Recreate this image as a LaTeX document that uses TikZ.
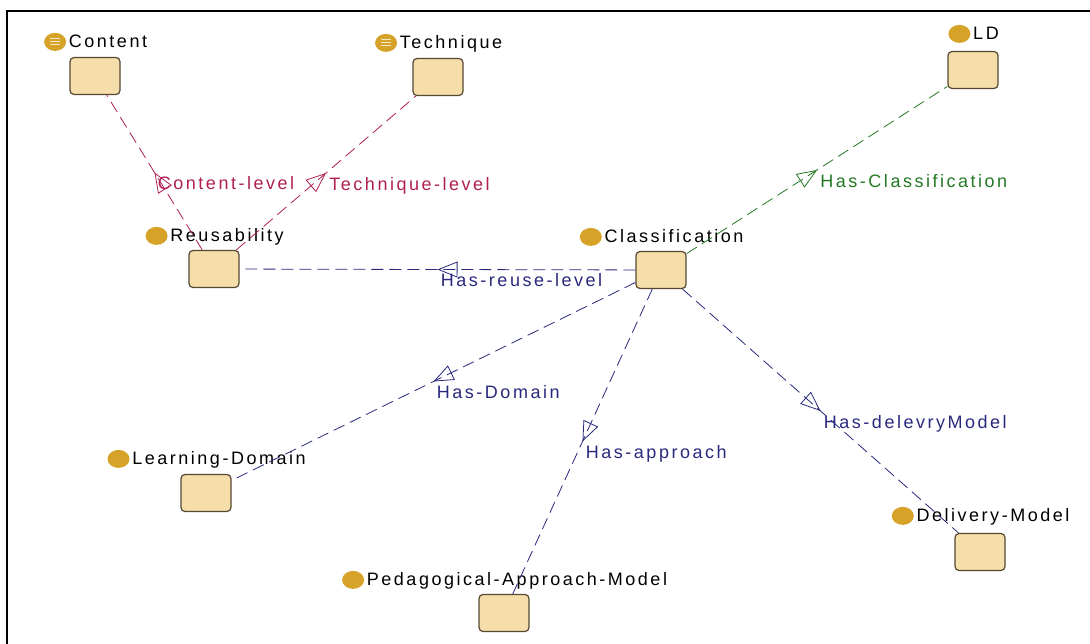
\documentclass[tikz,border=0pt]{standalone}
\usepackage{fontspec}
\setmainfont{Liberation Sans}[LetterSpace=14]
\usepackage{tikz}
\usetikzlibrary{positioning,shapes.geometric,arrows.meta,decorations.markings}
\definecolor{boxfill}{RGB}{246,222,170}
\definecolor{boxline}{RGB}{85,72,50}
\definecolor{dotgold}{RGB}{214,162,40}
\definecolor{crim}{RGB}{175,30,85}
\definecolor{navy}{RGB}{40,40,125}
\definecolor{leaf}{RGB}{35,120,35}

\begin{document}
\begin{tikzpicture}[x=1pt,y=-1pt,line width=.8pt,font=\fontsize{18}{20}\selectfont,
  cls/.style={draw=boxline,fill=boxfill,rounded corners=4pt,line width=1.2pt,minimum width=50pt,minimum height=37pt,inner sep=0pt},
  lbl/.style={inner sep=1pt,text height=1.5ex,text depth=.25ex},
  dot/.style={ellipse,fill=dotgold,minimum width=22pt,minimum height=18pt,inner sep=0pt,yshift=2pt},
  listdot/.style={dot,path picture={
    \foreach \dy in {-3,0,3}
      \draw[white!75!dotgold,line width=1pt] ([xshift=-5pt,yshift=\dy pt]path picture bounding box.center) -- ++(10pt,0pt);}},
  rel/.style={dash pattern=on 12pt off 6pt,postaction={decorate},
    decoration={markings,mark=at position .5 with {\arrow{Triangle[open,length=20pt,width=16pt]}}}},
  elbl/.style={anchor=north west,inner sep=3pt,yshift=-6pt,text height=1.5ex,text depth=.25ex}]
\useasboundingbox (0,0) rectangle (1090,644);
\draw[line width=2pt] (7,644) -- (7,11) -- (1090,11);

% classes
\node[cls] (content) at (95,76) {};
\node[cls] (technique) at (438,77) {};
\node[cls] (ld) at (973,70) {};
\node[cls] (reuse) at (214,269) {};
\node[cls] (classif) at (661,270) {};
\node[cls] (learn) at (206,493) {};
\node[cls] (peda) at (504,613) {};
\node[cls] (deliv) at (980,552) {};

% names
\node[lbl] (content-l) at ([xshift=13pt,yshift=13pt]content.north) {Content};
\node[listdot,left=1pt of content-l] (content-d) {};
\node[lbl] (technique-l) at ([xshift=13pt,yshift=13pt]technique.north) {Technique};
\node[listdot,left=1pt of technique-l] (technique-d) {};
\node[lbl] (ld-l) at ([xshift=13pt,yshift=15pt]ld.north) {LD};
\node[dot,left=1pt of ld-l] (ld-d) {};
\node[lbl] (reuse-l) at ([xshift=13pt,yshift=12pt]reuse.north) {Reusability};
\node[dot,left=1pt of reuse-l] (reuse-d) {};
\node[lbl] (classif-l) at ([xshift=13pt,yshift=12pt]classif.north) {Classification};
\node[dot,left=1pt of classif-l] (classif-d) {};
\node[lbl] (learn-l) at ([xshift=13pt,yshift=13pt]learn.north) {Learning-Domain};
\node[dot,left=1pt of learn-l] (learn-d) {};
\node[lbl] (peda-l) at ([xshift=13pt,yshift=12pt]peda.north) {Pedagogical-Approach-Model};
\node[dot,left=1pt of peda-l] (peda-d) {};
\node[lbl] (deliv-l) at ([xshift=13pt,yshift=15pt]deliv.north) {Delivery-Model};
\node[dot,left=1pt of deliv-l] (deliv-d) {};

% relations
\draw[rel,crim] (reuse) -- (content) node[elbl,pos=.5] {Content-level};
\draw[rel,crim] (reuse) -- (technique) node[elbl,pos=.5] {Technique-level};
\draw[rel,leaf] (classif) -- (ld) node[elbl,pos=.5] {Has-Classification};
\draw[rel,navy] (classif) -- (reuse) node[elbl,pos=.5] {Has-reuse-level};
\draw[rel,navy] (classif) -- (learn) node[elbl,pos=.5] {Has-Domain};
\draw[rel,navy] (classif) -- (peda) node[elbl,pos=.5] {Has-approach};
\draw[rel,navy] (classif) -- (deliv) node[elbl,pos=.5] {Has-delevryModel};
\end{tikzpicture}
\end{document}
